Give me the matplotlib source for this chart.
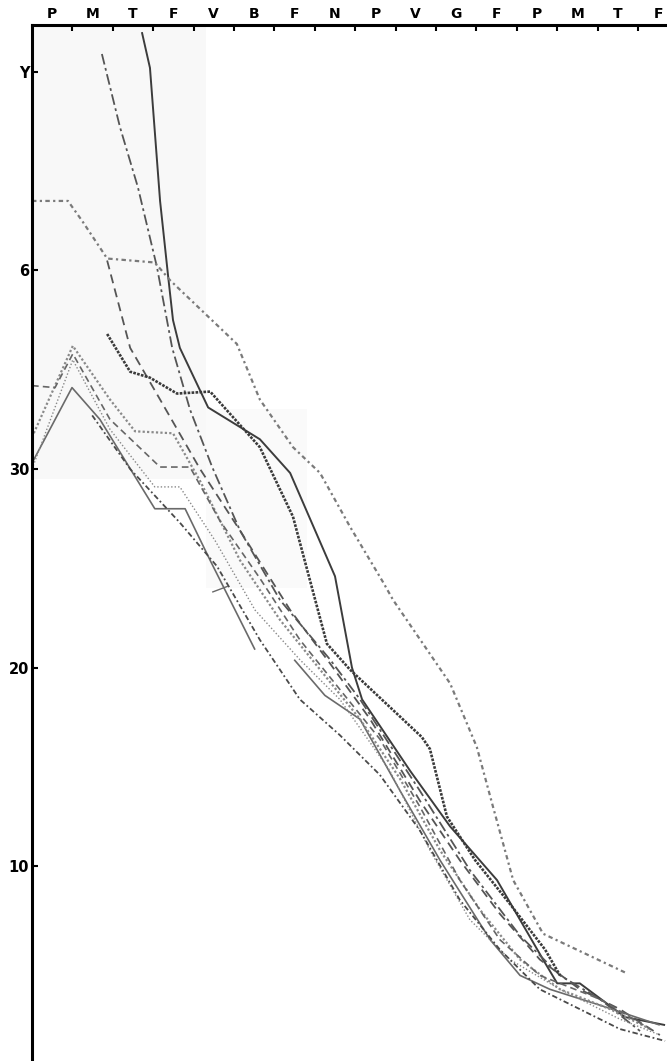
import matplotlib
matplotlib.use("Agg")
import matplotlib.pyplot as plt
import numpy as np

# --- data (x in month-interval units from the left axis, y in chart units) ---
month_labels = ["P", "M", "T", "F", "V", "B", "F", "N", "P", "V", "G", "F", "P", "M", "T", "F"]
ytick_vals = [10, 20, 30, 40, 50]
ytick_text = ["10", "20", "30", "6", "Y"]

s1_x = [2.72, 2.92, 3.17, 3.37, 3.49, 3.66, 4.36, 5.64, 6.39, 7.50, 7.92, 8.17, 9.36, 10.35, 11.51, 12.65, 13.00, 13.56, 14.68, 15.67]
s1_y = [52.0, 50.2, 43.5, 39.7, 37.5, 36.1, 33.1, 31.5, 29.8, 24.6, 20.0, 18.4, 14.8, 12.0, 9.3, 5.3, 4.1, 4.1, 2.4, 2.0]

s2_x = [1.73, 2.18, 2.62, 3.09, 3.47, 3.91, 4.46, 5.15, 6.14, 7.38, 8.12, 9.60, 10.84, 12.08, 13.07, 14.06, 15.05]
s2_y = [50.9, 47.2, 44.2, 40.2, 36.1, 33.0, 30.1, 26.9, 23.4, 20.4, 18.4, 13.8, 9.8, 6.5, 4.5, 3.3, 1.7]

s3_x = [0.0, 0.89, 1.24, 1.86, 3.04, 3.42, 5.07, 5.64, 6.46, 7.13, 7.87, 8.69, 8.94, 10.35, 11.01, 11.41, 11.91, 12.65, 14.73]
s3_y = [43.5, 43.5, 42.5, 40.6, 40.4, 39.5, 36.3, 33.5, 31.1, 29.8, 27.1, 24.3, 23.4, 19.2, 16.0, 13.0, 9.3, 6.6, 4.6]

s4_x = [1.86, 2.43, 3.17, 4.16, 5.15, 6.39, 7.38, 8.37, 9.60, 10.59, 11.58, 12.57, 13.56, 14.55, 15.54]
s4_y = [40.5, 36.1, 33.5, 30.0, 26.9, 22.9, 20.2, 17.4, 13.3, 10.3, 7.6, 5.3, 3.8, 2.8, 1.5]

s5_x = [1.86, 2.43, 2.92, 3.59, 4.41, 5.64, 6.46, 7.30, 7.87, 9.65, 9.85, 10.27, 10.97, 11.83, 12.70, 13.07]
s5_y = [36.8, 34.9, 34.6, 33.8, 33.9, 31.1, 27.6, 21.2, 19.9, 16.5, 15.9, 12.5, 10.3, 8.1, 5.8, 4.5]

s6_x = [0.0, 0.99, 1.68, 3.04, 3.79, 4.41, 5.52, np.nan, 6.49, 7.25, 8.12, 9.11, 10.10, 11.34, 12.08, 12.82, 14.06, 15.54]
s6_y = [30.3, 34.1, 32.5, 28.0, 28.0, 25.4, 20.9, np.nan, 20.4, 18.6, 17.4, 13.8, 10.3, 6.3, 4.5, 3.8, 3.0, 2.0]

s7_x = [0.0, 1.01, 1.93, 2.55, 3.49, 4.16, 5.15, 6.14, 7.13, 8.12, 9.11, 10.10, 11.09, 12.08, 13.07, 14.31, 15.30]
s7_y = [31.6, 36.2, 33.5, 31.9, 31.8, 29.4, 25.4, 22.4, 19.9, 17.4, 14.4, 10.8, 7.8, 5.3, 3.8, 2.8, 1.8]

s8_x = [0.0, 0.57, 1.01, 1.93, 3.17, 3.91, 4.65, 5.64, 6.63, 7.62, 8.61, 9.60, 10.59, 11.58, 12.57, 14.06, 15.30]
s8_y = [34.2, 34.1, 35.8, 32.5, 30.1, 30.1, 27.4, 24.5, 21.4, 18.9, 16.4, 13.0, 9.3, 6.3, 4.5, 3.3, 1.8]

s9_x = [0.0, 1.01, 1.93, 3.04, 3.66, 4.53, 5.52, 6.63, 7.62, 8.86, 9.85, 10.84, 11.83, 13.07, 14.55, 15.54]
s9_y = [30.0, 35.5, 32.0, 29.1, 29.1, 26.4, 22.9, 20.4, 18.4, 14.8, 10.8, 7.3, 5.3, 3.8, 2.3, 1.5]

s10_x = [1.49, 2.43, 3.66, 4.58, 5.64, 6.63, 7.62, 8.61, 9.60, 10.59, 11.58, 12.57, 13.56, 14.55, 15.67]
s10_y = [32.7, 30.0, 27.3, 25.1, 21.4, 18.4, 16.6, 14.6, 11.8, 8.3, 5.8, 3.8, 2.8, 1.8, 1.2]

s11_x = [4.46, 4.85]
s11_y = [23.8, 24.1]

series = [
    (s1_x, s1_y, dict(color="#3c3c3c", lw=1.4, ls="-")),
    (s2_x, s2_y, dict(color="#555555", lw=1.3, dashes=(6, 2, 1.5, 2))),
    (s3_x, s3_y, dict(color="#7a7a7a", lw=1.6, dashes=(2, 1.5, 1, 1.5))),
    (s4_x, s4_y, dict(color="#555555", lw=1.3, dashes=(5, 3))),
    (s5_x, s5_y, dict(color="#3a3a3a", lw=1.9, dashes=(1, 0.5))),
    (s6_x, s6_y, dict(color="#6a6a6a", lw=1.2, ls="-")),
    (s7_x, s7_y, dict(color="#8a8a8a", lw=1.6, dashes=(1, 1))),
    (s8_x, s8_y, dict(color="#666666", lw=1.2, dashes=(4, 2.5))),
    (s9_x, s9_y, dict(color="#888888", lw=1.0, dashes=(1, 1.5))),
    (s10_x, s10_y, dict(color="#4a4a4a", lw=1.3, dashes=(3, 1.5, 1, 1.5))),
    (s11_x, s11_y, dict(color="#6a6a6a", lw=1.0, ls="-")),
]

W, H = 667, 1061
fig = plt.figure(figsize=(W / 100, H / 100), dpi=100)
fig.patch.set_facecolor("white")
left = 32 / W
top_px = 25
ax = fig.add_axes([left, 0.0, 1 - left, (H - top_px) / H])
ax.set_facecolor("white")

xmax = (W - 32) / 40.4
ax.set_xlim(0, xmax)
ax.set_ylim(0.19, 52.36)

# faint scan-shade patches
ax.add_patch(plt.Rectangle((0, 29.5), 4.3, 23, transform=ax.transData, color="#f8f8f8", zorder=0, lw=0))
ax.add_patch(plt.Rectangle((4.3, 24), 2.5, 9, transform=ax.transData, color="#fafafa", zorder=0, lw=0))

for xs, ys, st in series:
    ax.plot(xs, ys, solid_capstyle="butt", dash_capstyle="butt", **st)

for s in ["right", "bottom"]:
    ax.spines[s].set_visible(False)
for s in ["left", "top"]:
    ax.spines[s].set_linewidth(2.2)
    ax.spines[s].set_color("black")

ax.xaxis.tick_top()
ax.set_xticks(np.arange(1, 16))
ax.set_xticklabels([])
ax.set_xticks(np.arange(16) + 0.5, minor=True)
ax.set_xticklabels(month_labels, minor=True, fontsize=10, fontweight="bold")
ax.tick_params(axis="x", which="major", direction="in", length=4, width=1.5, top=True, bottom=False)
ax.tick_params(axis="x", which="minor", length=0, pad=3, top=True, bottom=False)

ax.set_yticks(ytick_vals)
ax.set_yticklabels(ytick_text, fontsize=10.5, fontweight="bold")
ax.tick_params(axis="y", direction="in", length=4, width=1.5, pad=2)

fig.savefig("out.png", dpi=100, facecolor="white")
